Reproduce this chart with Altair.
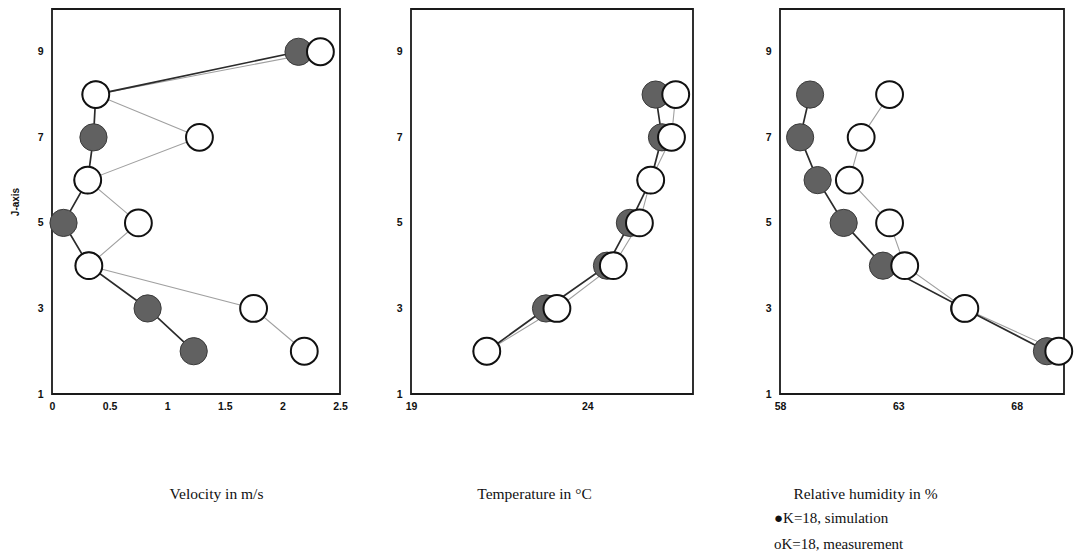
import altair as alt
import pandas as pd

# J levels of the grid
j_vel = [2, 3, 4, 5, 6, 7, 8, 9]
j_th = [2, 3, 4, 5, 6, 7, 8]

# Velocity in m/s
vel_sim = [1.23, 0.83, 0.32, 0.10, 0.31, 0.36, 0.38, 2.14]
vel_meas = [2.19, 1.75, 0.32, 0.75, 0.31, 1.28, 0.38, 2.33]

# Temperature in °C
temp_sim = [21.15, 22.83, 24.56, 25.21, 25.80, 26.12, 25.94]
temp_meas = [21.15, 23.14, 24.74, 25.48, 25.80, 26.39, 26.51]

# Relative humidity in %
rh_sim = [69.28, 65.78, 62.35, 60.69, 59.59, 58.85, 59.27]
rh_meas = [69.78, 65.81, 63.27, 62.63, 60.93, 61.43, 62.63]

legend_lines = ["\u25cfK=18, simulation", "oK=18, measurement"]

SANS = "Liberation Sans"
SERIF = "Liberation Serif"
H = 385


def panel(j, sim, meas, xdomain, xticks, xtitle, title_x, width, ytitle=""):
    df = pd.DataFrame({
        "J": j + j,
        "value": sim + meas,
        "series": ["sim"] * len(j) + ["meas"] * len(j),
    })
    x_axis = alt.Axis(
        values=xticks, title=xtitle, titleX=title_x, titleY=99,
        titleAlign="center", titleBaseline="middle", titleFont=SERIF,
        titleFontSize=15.5, titleFontWeight="normal", titleColor="#111",
        labelFont=SANS, labelFontSize=10.5, labelFontWeight="bold",
        labelColor="#111", labelPadding=7, ticks=False, domain=False,
        grid=False, labelFlush=False, format="~g",
    )
    y_axis = alt.Axis(
        values=[1, 3, 5, 7, 9], title=ytitle, titleX=-37, titleY=H / 2,
        titleFont=SANS, titleFontSize=10, titleFontWeight="bold",
        titleColor="#111", titleAlign="center", titleBaseline="middle",
        labelFont=SANS, labelFontSize=10.5, labelFontWeight="bold",
        labelColor="#111", labelPadding=9, ticks=False, domain=False,
        grid=False, labelFlush=False,
    )
    base = alt.Chart(df).encode(
        x=alt.X("value:Q", scale=alt.Scale(domain=xdomain, nice=False, zero=False), axis=x_axis),
        y=alt.Y("J:Q", scale=alt.Scale(domain=[1, 10], nice=False, zero=False), axis=y_axis),
        order="J:Q",
    )
    meas_line = base.transform_filter(alt.datum.series == "meas").mark_line(
        color="#a0a0a0", strokeWidth=1.1)
    sim_line = base.transform_filter(alt.datum.series == "sim").mark_line(
        color="#2b2b2b", strokeWidth=1.7)
    sim_pts = base.transform_filter(alt.datum.series == "sim").mark_point(
        filled=True, shape="circle", size=740, fill="#616161", stroke="#3a3a3a",
        strokeWidth=1, opacity=1)
    meas_pts = base.transform_filter(alt.datum.series == "meas").mark_point(
        filled=True, shape="circle", size=720, fill="white", stroke="#111",
        strokeWidth=2, opacity=1)
    return alt.layer(meas_line, sim_line, sim_pts, meas_pts).properties(width=width, height=H)


p_vel = panel(j_vel, vel_sim, vel_meas, [0, 2.5], [0, 0.5, 1, 1.5, 2, 2.5],
              "Velocity in m/s", 164, 288, ytitle="J-axis")
p_temp = panel(j_th, temp_sim, temp_meas, [19, 27], [19, 24],
               "Temperature in \u00b0C", 123, 282)
p_rh = panel(j_th, rh_sim, rh_meas, [58, 70], [58, 63, 68],
             "Relative humidity in %", 85, 284)

legend_df = pd.DataFrame({"label": legend_lines})
leg1 = alt.Chart(legend_df).transform_filter(alt.datum.label == legend_lines[0]).mark_text(
    align="left", baseline="middle", font=SERIF, fontSize=15, color="#111"
).encode(x=alt.value(-6), y=alt.value(509), text="label:N")
leg2 = alt.Chart(legend_df).transform_filter(alt.datum.label == legend_lines[1]).mark_text(
    align="left", baseline="middle", font=SERIF, fontSize=15, color="#111"
).encode(x=alt.value(-6), y=alt.value(535), text="label:N")

p_rh = alt.layer(p_rh, leg1, leg2)

right = alt.hconcat(p_temp, p_rh, spacing=87, bounds="flush")
chart = alt.hconcat(p_vel, right, spacing=71, bounds="flush").properties(
    padding={"left": 9, "top": 8, "right": 0, "bottom": 0},
).configure(
    background="white",
    view=alt.ViewConfig(stroke="#1a1a1a", strokeWidth=1.8),
)

chart.save("out.html", embed_options={"renderer": "svg", "actions": False})
